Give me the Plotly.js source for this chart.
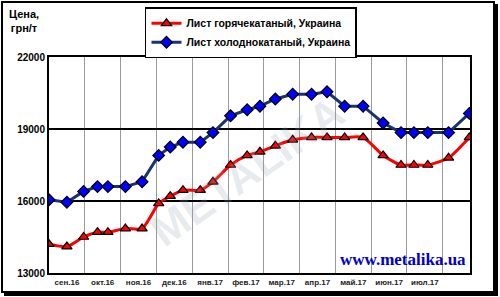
<!DOCTYPE html>
<html><head><meta charset="utf-8">
<script src="https://cdn.plot.ly/plotly-3.0.1.min.js"></script>
<style>
html,body{margin:0;padding:0;background:#fff;}
#wrap{position:relative;width:500px;height:297px;overflow:hidden;}
#chart{position:absolute;left:0;top:0;width:500px;height:297px;}
#frame{position:absolute;left:1px;top:1px;width:490px;height:288px;border:2px solid #000;box-shadow:3px 3px 0 #000;pointer-events:none;}
</style></head>
<body><div id="wrap"><div id="chart"></div><div id="frame"></div></div>
<script>
// observation dates
const dates = ["2016-09-01","2016-09-16","2016-09-30","2016-10-12","2016-10-21","2016-11-05","2016-11-19",
  "2016-12-03","2016-12-13","2016-12-24","2017-01-08","2017-01-19","2017-02-03","2017-02-16","2017-02-26",
  "2017-03-11","2017-03-26","2017-04-11","2017-04-24","2017-05-09","2017-05-25","2017-06-11","2017-06-26",
  "2017-07-07","2017-07-19","2017-08-06","2017-08-24"];
// Лист горячекатаный, Украина (грн/т)
const hotRolled = [14200,14100,14500,14700,14700,14850,14850,15900,16200,16450,16450,16800,17500,17900,18050,
  18300,18550,18650,18650,18650,18650,17900,17500,17500,17500,17800,18650];
// Лист холоднокатаный, Украина (грн/т)
const coldRolled = [16050,15950,16400,16600,16600,16600,16800,17900,18250,18450,18450,18850,19550,19800,19950,
  20250,20450,20450,20550,19950,19950,19250,18850,18850,18850,18850,19650];
const monthLabels = ["сен.16","окт.16","ноя.16","дек.16","янв.17","фев.17","мар.17","апр.17","май.17","июн.17","июл.17"];
const yTicks = [13000,16000,19000,22000];
const seriesNames = ["Лист горячекатаный, Украина","Лист холоднокатаный, Украина"];

// month-unit position (each month equal width, as in the original chart)
function monthPos(s){
  const [y,m,d] = s.split("-").map(Number);
  const dim = new Date(y, m, 0).getDate();
  return (y-2016)*12 + (m-9) + (d-1)/dim;
}
const xs = dates.map(monthPos);
const tickPos = monthLabels.map((_,i)=>i+0.5);

const font = "Liberation Sans, Arial, sans-serif";
const traces = [
  {x:xs, y:hotRolled, name:seriesNames[0], type:"scatter", mode:"lines+markers",
   line:{color:"#ff0000", width:3, shape:"spline", smoothing:0.6},
   marker:{symbol:"triangle-up", size:9, color:"#ff0000", line:{color:"#000", width:1.2}}},
  {x:xs, y:coldRolled, name:seriesNames[1], type:"scatter", mode:"lines+markers",
   line:{color:"#1a3370", width:3},
   marker:{symbol:"diamond", size:9, color:"#0000ff", line:{color:"#000", width:1.2}}}
];
const layout = {
  width:500, height:297,
  margin:{l:49, r:30, t:57, b:24, autoexpand:false},
  paper_bgcolor:"#fff", plot_bgcolor:"#fff",
  showlegend:true,
  legend:{x:0.228, y:1.23, xanchor:"left", yanchor:"top", bgcolor:"#fff",
    bordercolor:"#000", borderwidth:1.5, font:{family:font, size:10.5, color:"#000", weight:"bold"},
    tracegroupgap:0, itemwidth:30},
  xaxis:{range:[0, 11.76], tickmode:"array", tickvals:tickPos, ticktext:monthLabels,
    showgrid:false, zeroline:false, showline:true, linecolor:"#000", linewidth:2, mirror:true,
    ticks:"", tickfont:{family:font, size:8, color:"#222", weight:"bold"},
    minor:{tickmode:"linear", tick0:0, dtick:1, showgrid:true, gridcolor:"#9a9a9a", gridwidth:1, ticks:""},
    fixedrange:true},
  yaxis:{range:[13000,22000], tickmode:"array", tickvals:yTicks, ticktext:yTicks.map(String),
    showgrid:true, gridcolor:"#000", gridwidth:1.5, zeroline:false, showline:true, linecolor:"#000",
    linewidth:2, mirror:true, ticks:"", ticklen:0, tickfont:{family:font, size:10, color:"#000", weight:"bold"},
    fixedrange:true},
  annotations:[
    {xref:"paper", yref:"paper", x:-0.06, y:1.235, xanchor:"center", yanchor:"top", showarrow:false,
     text:"Цена,<br>грн/т", align:"center", font:{family:font, size:11, color:"#000", weight:"bold"}},
    {xref:"paper", yref:"paper", x:0.47, y:0.47, showarrow:false, text:"METALIKA", textangle:-35,
     font:{family:font, size:44, color:"rgba(150,165,180,0.22)", weight:"bold"}},
    {xref:"paper", yref:"paper", x:0.995, y:0.01, xanchor:"right", yanchor:"bottom", showarrow:false,
     text:"www.metalika.ua", font:{family:"Liberation Serif, Times New Roman, serif", size:17, color:"#0000cc", weight:"bold"}}
  ]
};
Plotly.newPlot("chart", traces, layout, {staticPlot:true, displayModeBar:false});
</script></body></html>
